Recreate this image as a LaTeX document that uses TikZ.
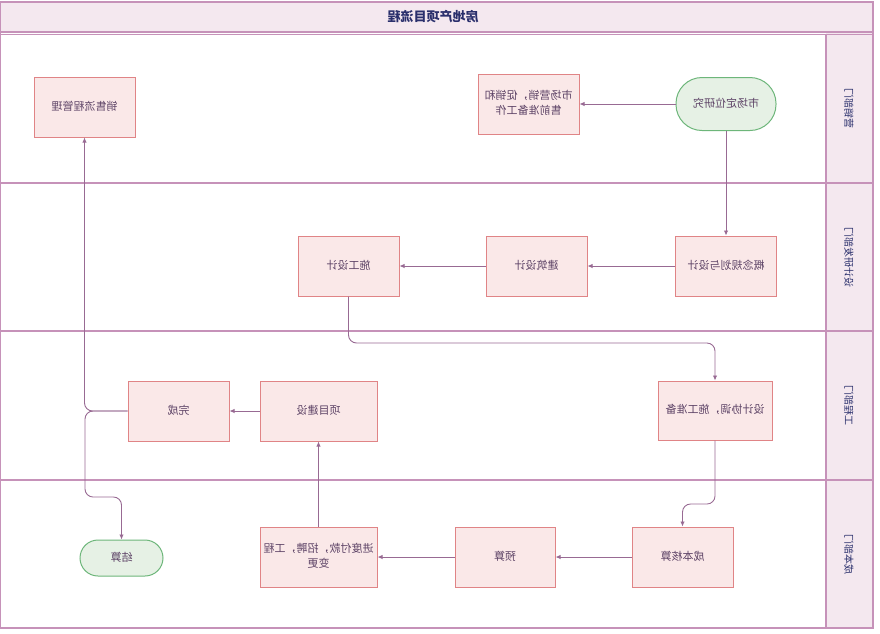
\documentclass[tikz,border=0pt]{standalone}
\usepackage{fontspec}
\usepackage{graphicx}
\setmainfont{Noto Sans CJK SC}
\usetikzlibrary{arrows.meta}
\definecolor{poolc}{HTML}{C692B9}
\definecolor{headfill}{HTML}{F4E8EF}
\definecolor{titlec}{HTML}{2A2F6C}
\definecolor{boxfill}{HTML}{FAE8E8}
\definecolor{boxdraw}{HTML}{E08486}
\definecolor{boxtext}{HTML}{5E4467}
\definecolor{greenfill}{HTML}{E6F1E5}
\definecolor{greendraw}{HTML}{6DB67A}
\definecolor{edgec}{HTML}{986A93}
\newcommand{\mirtext}[1]{\reflectbox{\begin{tabular}{@{}c@{}}#1\end{tabular}}}
\begin{document}
\begin{tikzpicture}[x=1pt,y=-1pt,
  procbox/.style={draw=boxdraw, fill=boxfill, line width=1pt, minimum width=101pt, minimum height=60pt, inner sep=0pt, text=boxtext, font=\fontsize{11pt}{15pt}\selectfont},
  termbox/.style={draw=greendraw, fill=greenfill, line width=1pt, rounded corners=26pt, minimum width=100pt, minimum height=53pt, inner sep=0pt, text=boxtext, font=\fontsize{11pt}{15pt}\selectfont},
  lanelabel/.style={text=titlec, font=\fontsize{10pt}{12pt}\selectfont, inner sep=0pt},
  flow/.style={draw=edgec, line width=0.9pt, rounded corners=8pt, -{Latex[length=5pt,width=4.5pt]}},
  poolline/.style={draw=poolc, line width=1.1pt}
]
\useasboundingbox (0,0) rectangle (880,633);
% pool background
\fill[headfill] (0.5,2) rectangle (873,33);
\fill[headfill] (826,33) rectangle (873,628);
\draw[poolline] (0.5,2) rectangle (873,628);
\draw[poolline] (0.5,32) -- (873,32);
\draw[poolline] (0.5,34.5) -- (873,34.5);
\draw[poolline] (0.5,183) -- (873,183);
\draw[poolline] (0.5,331) -- (873,331);
\draw[poolline] (0.5,480) -- (873,480);
\draw[poolline] (826,34.5) -- (826,628);
% title and lane labels
\node[text=titlec, font=\fontsize{13pt}{15pt}\selectfont\bfseries, inner sep=0pt] (title) at (433,17) {\reflectbox{房地产项目流程}};
\node[lanelabel] (lane1) at (849,108) {\reflectbox{\rotatebox{90}{营销部门}}};
\node[lanelabel] (lane2) at (849,257) {\reflectbox{\rotatebox{90}{设计研发部门}}};
\node[lanelabel] (lane3) at (849,405) {\reflectbox{\rotatebox{90}{工程部门}}};
\node[lanelabel] (lane4) at (849,554) {\reflectbox{\rotatebox{90}{成本部门}}};
% nodes
\node[termbox] (research) at (726,104) {\mirtext{市场定位研究}};
\node[procbox] (market) at (528.5,104) {\mirtext{市场营销，促销和\\售前准备工作}};
\node[procbox] (sales) at (84.5,107) {\mirtext{销售流程管理}};
\node[procbox] (concept) at (726,266) {\mirtext{概念规划与设计}};
\node[procbox] (arch) at (536.5,266) {\mirtext{建筑设计}};
\node[procbox] (constr) at (348.5,266) {\mirtext{施工设计}};
\node[procbox, minimum width=114pt, minimum height=59pt] (coord) at (715,410.5) {\mirtext{设计协调，施工准备}};
\node[procbox, minimum width=117pt] (build) at (318.5,411) {\mirtext{项目建设}};
\node[procbox] (done) at (178.5,411) {\mirtext{完成}};
\node[procbox] (cost) at (682.5,557) {\mirtext{成本核算}};
\node[procbox, minimum width=100pt] (budget) at (505,557) {\mirtext{预算}};
\node[procbox, minimum width=117pt] (pay) at (318.5,557) {\mirtext{进度付款，招聘，工程\\变更}};
\node[termbox, minimum width=83pt, minimum height=36pt, rounded corners=18pt] (settle) at (121.5,558) {\mirtext{结算}};
% connectors
\draw[flow] (research.west) -- (market.east);
\draw[flow] (research.south) -- (concept.north);
\draw[flow] (concept.west) -- (arch.east);
\draw[flow] (arch.west) -- (constr.east);
\draw[flow] (constr.south) |- (530,343) -| (coord.north);
\draw[flow] (coord.south) |- (700,504) -| (cost.north);
\draw[flow] (cost.west) -- (budget.east);
\draw[flow] (budget.west) -- (pay.east);
\draw[flow] (pay.north) -- (build.south);
\draw[flow] (build.west) -- (done.east);
\draw[flow] (done.west) -| (sales.south);
\draw[flow] (done.west) -| (85,497) -| (settle.north);
\end{tikzpicture}
\end{document}
